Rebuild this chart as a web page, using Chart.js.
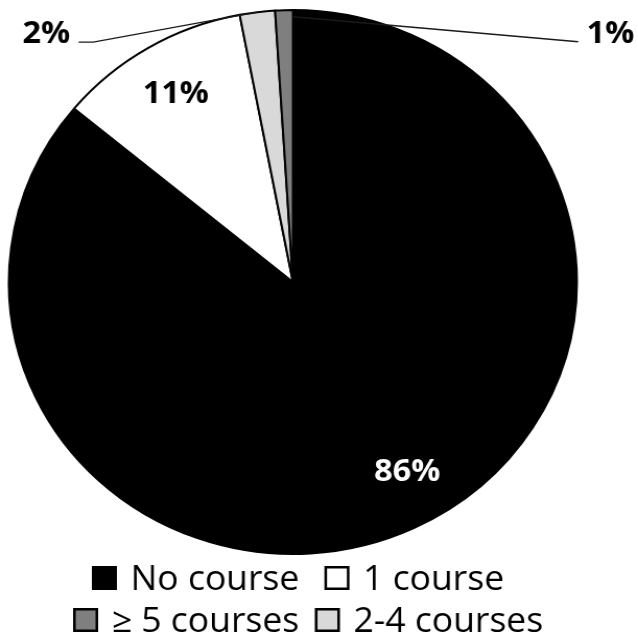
<!DOCTYPE html>
<html>
<head>
<meta charset="utf-8">
<script src="https://cdn.jsdelivr.net/npm/chart.js@4.4.1/dist/chart.umd.min.js"></script>
<style>
  html, body { margin: 0; padding: 0; background: #ffffff; overflow: hidden; }
  /* the whole figure is drawn slightly wider than tall */
  #wrap { width: 611px; height: 642px; transform: scaleX(1.0442); transform-origin: 0 0; }
</style>
</head>
<body>
<div id="wrap"><canvas id="chart" width="611" height="642"></canvas></div>
<script>
// Share of respondents by number of courses taken (percent)
const categories = ['No course', '1 course', '2-4 courses', '\u2265 5 courses'];
const shares = [86, 11, 2, 1];
// Order in which the legend lists the categories
const legendOrder = ['No course', '1 course', '\u2265 5 courses', '2-4 courses'];

// Percentage labels: inside labels sit on the slice, outside ones get a leader line
const sliceLabels = {
  id: 'sliceLabels',
  afterDatasetsDraw(chart, args, opts) {
    const ctx = chart.ctx;
    const values = chart.data.datasets[0].data;
    const total = values.reduce((a, b) => a + b, 0);
    chart.getDatasetMeta(0).data.forEach((arc, i) => {
      const p = arc.getProps(['x', 'y', 'startAngle', 'endAngle', 'outerRadius'], true);
      const mid = (p.startAngle + p.endAngle) / 2;
      const text = Math.round(values[i] / total * 100) + '%';
      const place = opts.placement[i];
      ctx.save();
      ctx.font = opts.font;
      ctx.textAlign = 'center';
      ctx.textBaseline = 'alphabetic';
      const capHalf = opts.capHalf;
      if (place.inside) {
        const a = mid + place.turn * Math.PI / 180;
        const r = p.outerRadius * place.inside;
        ctx.fillStyle = place.color;
        ctx.fillText(text, p.x + r * Math.cos(a), p.y + r * Math.sin(a) + capHalf);
      } else {
        // leader line target: a point along the slice's arc
        const a = p.startAngle + place.along * (p.endAngle - p.startAngle);
        const r = p.outerRadius * place.reach;
        const ax = p.x + r * Math.cos(a);
        const ay = p.y + r * Math.sin(a);
        const lx = ax + place.dx;
        const ly = ay + place.dy;
        const w = ctx.measureText(text).width;
        const dir = place.dx < 0 ? 1 : -1;
        const sx = lx + dir * (w / 2 + opts.gap);
        const sy = ly - 1;
        ctx.strokeStyle = opts.lineColor;
        ctx.lineWidth = opts.lineWidth;
        ctx.beginPath();
        ctx.moveTo(sx, sy);
        ctx.lineTo(sx + dir * place.elbow, sy);
        ctx.lineTo(ax, ay);
        ctx.stroke();
        ctx.fillStyle = place.color;
        ctx.fillText(text, lx, ly);
      }
      ctx.restore();
    });
  }
};

// Two-row legend with square swatches
const boxLegend = {
  id: 'boxLegend',
  afterDraw(chart, args, opts) {
    const ctx = chart.ctx;
    const ds = chart.data.datasets[0];
    const labels = chart.data.labels;
    ctx.save();
    ctx.font = opts.font;
    ctx.textAlign = 'left';
    ctx.textBaseline = 'alphabetic';
    let k = 0;
    opts.rows.forEach(row => {
      let x = row.start;
      for (let n = 0; n < row.count; n++, k++) {
        const idx = labels.indexOf(legendOrder[k]);
        const s = opts.box;
        const top = row.baseline - s;
        ctx.fillStyle = ds.backgroundColor[idx];
        ctx.fillRect(x, top, s, s);
        ctx.strokeStyle = '#000000';
        ctx.lineWidth = opts.boxBorder;
        ctx.strokeRect(x + opts.boxBorder / 2, top + opts.boxBorder / 2, s - opts.boxBorder, s - opts.boxBorder);
        ctx.fillStyle = '#000000';
        const tx = x + opts.textOffset;
        ctx.fillText(legendOrder[k], tx, row.baseline);
        x = tx + ctx.measureText(legendOrder[k]).width + row.gap;
      }
    });
    ctx.restore();
  }
};

new Chart(document.getElementById('chart'), {
  type: 'pie',
  data: {
    labels: categories,
    datasets: [{
      data: shares,
      backgroundColor: ['#000000', '#ffffff', '#d9d9d9', '#7f7f7f'],
      borderColor: '#000000',
      borderWidth: 2,
      hoverOffset: 0
    }]
  },
  options: {
    responsive: false,
    devicePixelRatio: 1,
    animation: false,
    events: [],
    radius: 272,
    layout: { padding: { top: 9, bottom: 87, left: 7, right: 57 } },
    plugins: {
      legend: { display: false },
      tooltip: { enabled: false },
      sliceLabels: {
        font: 'bold 31px "Open Sans"',
        capHalf: 11,
        gap: 8,
        lineColor: '#1a1a1a',
        lineWidth: 1.4,
        placement: [
          { inside: 0.80, turn: -5, color: '#ffffff' },
          { inside: 0.81, turn: 0, color: '#000000' },
          { along: 0.5, reach: 1.0, dx: -202, dy: 31, elbow: 14, color: '#000000' },
          { along: 1.0, reach: 0.975, dx: 304, dy: 26, elbow: 0, color: '#000000' }
        ]
      },
      boxLegend: {
        font: '34px "Open Sans"',
        box: 24,
        boxBorder: 2.5,
        textOffset: 37,
        rows: [
          { count: 2, start: 88, baseline: 590, gap: 24 },
          { count: 2, start: 70, baseline: 632, gap: 15 }
        ]
      }
    }
  },
  plugins: [sliceLabels, boxLegend]
});
</script>
</body>
</html>
